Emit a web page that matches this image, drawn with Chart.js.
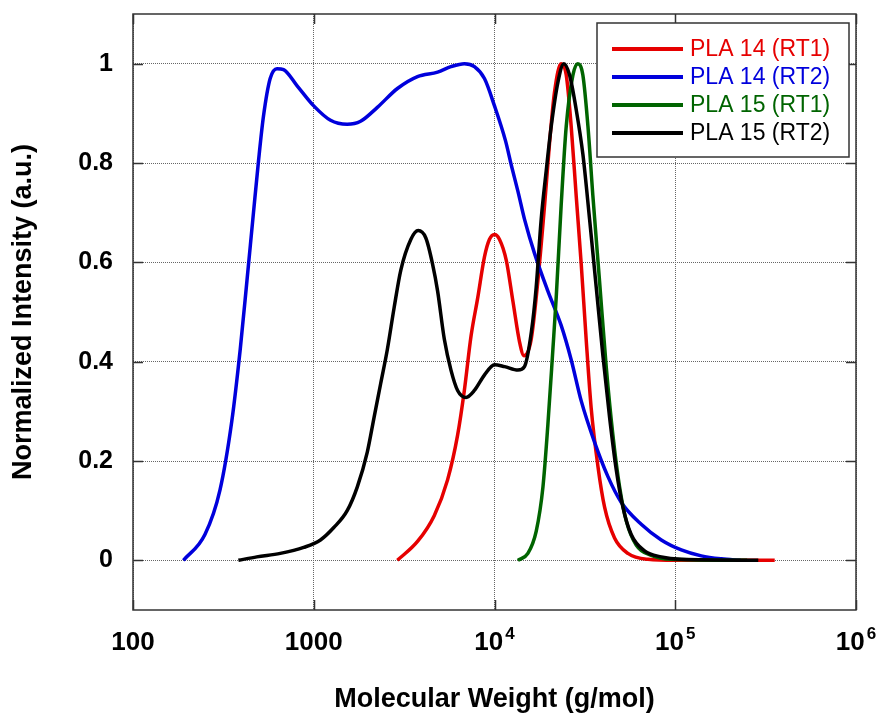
<!DOCTYPE html>
<html lang="en">
  <head>
    <meta charset="UTF-8" />
    <title>Molecular weight distribution</title>
    <script src="https://cdn.jsdelivr.net/npm/chart.js"></script>
    <style>
      html, body { margin: 0; padding: 0; background: #fff; }
      canvas { display: block; }
    </style>
  </head>
  <body>
    <canvas id="mwChart" width="879" height="715"></canvas>
    <script>
      // molecular weight (g/mol) and normalized intensity
      const pla14rt1M = [2900, 3750, 4640, 5500, 6250, 6810, 7420, 8070, 8800, 9370, 10000, 10660, 11620, 12650, 13770, 14550, 15960, 17380, 18930, 20150, 21480, 23380, 24940, 26560, 28300, 30180, 32150, 34260, 37320, 40650, 46150, 54710, 70600, 100000, 355000];
      const pla14rt1I = [0, 0.038, 0.09, 0.162, 0.252, 0.342, 0.452, 0.528, 0.611, 0.646, 0.656, 0.646, 0.604, 0.521, 0.439, 0.412, 0.445, 0.563, 0.715, 0.839, 0.943, 1.0, 0.977, 0.874, 0.735, 0.597, 0.445, 0.307, 0.19, 0.107, 0.045, 0.014, 0.002, 0, 0];

      const pla14rt2M = [190, 250, 303, 352, 392, 427, 464, 495, 527, 574, 626, 681, 807, 1000, 1238, 1531, 1816, 2248, 2904, 3750, 4845, 5743, 6813, 7743, 8798, 10000, 11500, 12400, 13500, 14700, 16650, 19740, 23380, 26560, 30180, 35760, 42370, 50220, 64830, 83700, 108000, 139400, 180000, 230000];
      const pla14rt2I = [0, 0.052, 0.142, 0.28, 0.425, 0.563, 0.7, 0.805, 0.894, 0.97, 0.99, 0.988, 0.956, 0.915, 0.886, 0.878, 0.884, 0.912, 0.95, 0.974, 0.983, 0.994, 1.0, 0.994, 0.97, 0.915, 0.845, 0.795, 0.742, 0.685, 0.618, 0.542, 0.473, 0.404, 0.321, 0.238, 0.169, 0.117, 0.0725, 0.041, 0.021, 0.009, 0.003, 0];

      const pla15rt1M = [13460, 15300, 17020, 18540, 19740, 21040, 21940, 23380, 24940, 27150, 28900, 30820, 32880, 35000, 38100, 41500, 45200, 49200, 53600, 60800, 73600, 95000, 250000];
      const pla15rt1I = [0, 0.014, 0.059, 0.148, 0.273, 0.425, 0.528, 0.715, 0.874, 0.977, 1.0, 0.977, 0.874, 0.735, 0.563, 0.39, 0.252, 0.148, 0.079, 0.031, 0.01, 0.002, 0];

      const pla15rt2M = [383, 484, 653, 880, 1089, 1291, 1531, 1742, 1978, 2154, 2346, 2555, 2782, 3030, 3443, 3783, 4170, 4540, 4845, 5278, 5743, 6251, 6960, 7740, 8790, 10000, 11370, 13490, 14650, 16000, 17000, 18130, 19320, 20600, 22440, 24210, 26020, 28300, 30820, 33570, 36560, 39810, 43350, 47140, 51330, 57050, 67600, 83700, 108000, 288000];
      const pla15rt2I = [0, 0.007, 0.014, 0.026, 0.041, 0.066, 0.1, 0.148, 0.218, 0.287, 0.356, 0.425, 0.508, 0.584, 0.646, 0.664, 0.649, 0.597, 0.542, 0.445, 0.383, 0.342, 0.328, 0.342, 0.373, 0.394, 0.39, 0.383, 0.39, 0.46, 0.549, 0.687, 0.784, 0.874, 0.963, 1.0, 0.977, 0.908, 0.818, 0.687, 0.549, 0.411, 0.287, 0.183, 0.107, 0.052, 0.019, 0.007, 0.002, 0];

      const seriesNames = ["PLA 14 (RT1)", "PLA 14 (RT2)", "PLA 15 (RT1)", "PLA 15 (RT2)"];
      const seriesColors = ["#e60000", "#0000dc", "#006400", "#000000"];

      const xTickValues = [100, 1000, 10000, 100000, 1000000];
      const xTickText = ["100", "1000", "10^4", "10^5", "10^6"];
      const yTickValues = [0, 0.2, 0.4, 0.6, 0.8, 1];

      const FONT = "'Liberation Sans', Arial, sans-serif";

      const toPoints = (ms, is) => ms.map((m, i) => ({ x: m, y: is[i] }));
      const allSeries = [
        toPoints(pla14rt1M, pla14rt1I),
        toPoints(pla14rt2M, pla14rt2I),
        toPoints(pla15rt1M, pla15rt1I),
        toPoints(pla15rt2M, pla15rt2I),
      ];
      const drawOrder = [4, 3, 2, 1]; // black on top

      // box, inner ticks, x tick labels with superscripts, legend
      const decorations = {
        id: "decorations",
        afterDraw(chart) {
          const { ctx, chartArea: a } = chart;
          const xs = chart.scales.x;
          const ys = chart.scales.y;
          ctx.save();

          // frame and inward ticks
          ctx.strokeStyle = "#333";
          ctx.lineWidth = 1.5;
          ctx.strokeRect(a.left, a.top, a.right - a.left, a.bottom - a.top);
          ctx.beginPath();
          yTickValues.forEach((v) => {
            const py = Math.round(ys.getPixelForValue(v)) + 0.5;
            ctx.moveTo(a.left, py); ctx.lineTo(a.left + 10, py);
            ctx.moveTo(a.right, py); ctx.lineTo(a.right - 10, py);
          });
          xTickValues.forEach((v) => {
            const px = Math.round(xs.getPixelForValue(v)) + 0.5;
            ctx.moveTo(px, a.bottom); ctx.lineTo(px, a.bottom - 10);
            ctx.moveTo(px, a.top); ctx.lineTo(px, a.top + 10);
          });
          ctx.stroke();

          // x tick labels
          ctx.fillStyle = "#000";
          ctx.textBaseline = "middle";
          ctx.textAlign = "left";
          xTickText.forEach((t, i) => {
            const px = xs.getPixelForValue(xTickValues[i]);
            const [base, exp] = t.split("^");
            ctx.font = "bold 26px " + FONT;
            const wb = ctx.measureText(base).width;
            let we = 0;
            if (exp) {
              ctx.font = "bold 17px " + FONT;
              we = ctx.measureText(exp).width + 2;
            }
            const x0 = px - (wb + we) / 2;
            ctx.font = "bold 26px " + FONT;
            ctx.fillText(base, x0, a.bottom + 33);
            if (exp) {
              ctx.font = "bold 17px " + FONT;
              ctx.fillText(exp, x0 + wb + 2, a.bottom + 24);
            }
          });

          // legend
          const lx = 597, ly = 23, lw = 252, lh = 134;
          ctx.fillStyle = "#fff";
          ctx.fillRect(lx, ly, lw, lh);
          ctx.strokeStyle = "#333";
          ctx.lineWidth = 1.5;
          ctx.strokeRect(lx, ly, lw, lh);
          ctx.font = "23px " + FONT;
          seriesNames.forEach((name, i) => {
            const yy = ly + 26 + i * 28;
            ctx.strokeStyle = seriesColors[i];
            ctx.lineWidth = 4;
            ctx.beginPath();
            ctx.moveTo(lx + 15, yy);
            ctx.lineTo(lx + 86, yy);
            ctx.stroke();
            ctx.fillStyle = seriesColors[i];
            ctx.fillText(name, lx + 93, yy + 1);
          });
          ctx.restore();
        },
      };

      const ctx = document.getElementById("mwChart").getContext("2d");
      new Chart(ctx, {
        type: "line",
        data: {
          datasets: allSeries.map((pts, i) => ({
            label: seriesNames[i],
            data: pts,
            borderColor: seriesColors[i],
            backgroundColor: seriesColors[i],
            borderWidth: 3.5,
            pointRadius: 0,
            fill: false,
            cubicInterpolationMode: "monotone",
            order: drawOrder[i],
          })),
        },
        options: {
          responsive: false,
          animation: false,
          devicePixelRatio: 1,
          layout: { padding: { top: 14, right: 23, left: 0, bottom: 0 } },
          plugins: {
            legend: { display: false },
            tooltip: { enabled: false },
          },
          scales: {
            x: {
              type: "logarithmic",
              min: 100,
              max: 1000000,
              afterBuildTicks: (scale) => {
                scale.ticks = xTickValues.map((v) => ({ value: v }));
              },
              afterFit: (scale) => {
                scale.height = 105;
                scale.paddingLeft = 0;
                scale.paddingRight = 0;
              },
              ticks: { display: false },
              grid: { color: "#666", lineWidth: 1, drawTicks: false },
              border: { display: false, dash: [1, 1] },
              title: {
                display: true,
                text: "Molecular Weight (g/mol)",
                color: "#000",
                font: { family: FONT, size: 27, weight: "bold", lineHeight: 1 },
                padding: { top: 0, bottom: 2 },
              },
            },
            y: {
              type: "linear",
              min: -0.1,
              max: 1.1,
              afterBuildTicks: (scale) => {
                scale.ticks = yTickValues.map((v) => ({ value: v }));
              },
              afterFit: (scale) => {
                scale.width = 133;
                scale.paddingTop = 0;
                scale.paddingBottom = 0;
              },
              ticks: {
                padding: 20,
                color: "#000",
                font: { family: FONT, size: 25, weight: "bold" },
                callback: (v) => String(Math.round(v * 10) / 10),
              },
              grid: { color: "#666", lineWidth: 1, drawTicks: false },
              border: { display: false, dash: [1, 1] },
              title: {
                display: true,
                text: "Normalized Intensity (a.u.)",
                color: "#000",
                font: { family: FONT, size: 27, weight: "bold", lineHeight: 1 },
                padding: { top: 10, bottom: 0 },
              },
            },
          },
        },
        plugins: [decorations],
      });
    </script>
  </body>
</html>
